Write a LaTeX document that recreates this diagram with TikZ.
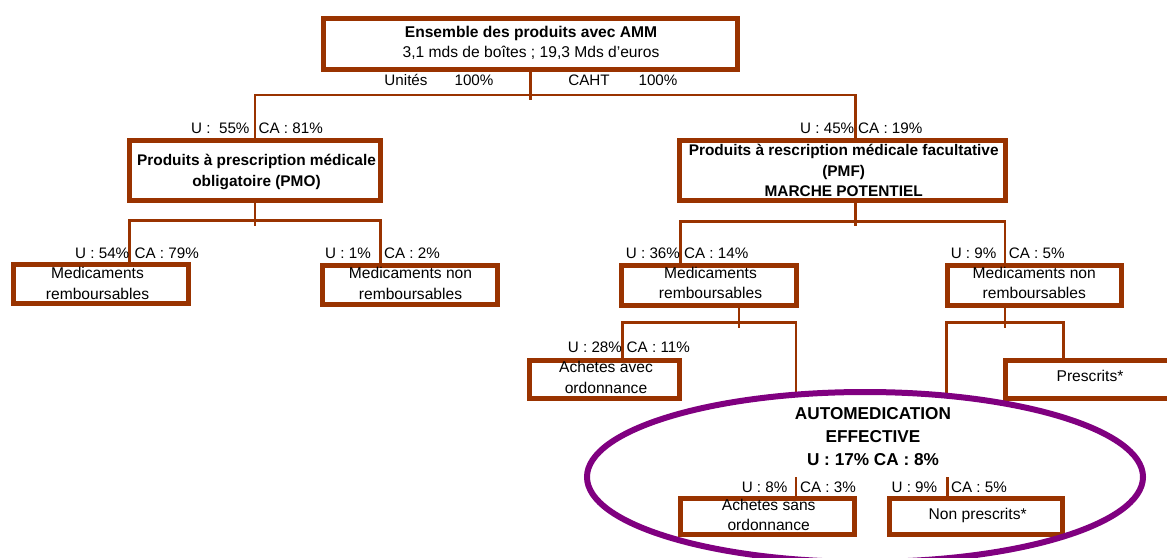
\documentclass[tikz,border=0pt]{standalone}
\usepackage{fontspec}
\setmainfont{Liberation Sans}
\usetikzlibrary{shapes.geometric}
\definecolor{brn}{RGB}{153,51,0}
\definecolor{prp}{RGB}{128,0,128}
\begin{document}
\begin{tikzpicture}[x=1pt,y=-1pt,
  box/.style={draw=brn, line width=5pt, inner sep=0pt, fill=white},
  conn/.style={draw=brn, line width=2.8pt},
  txt/.style={inner sep=0pt, align=center, font=\fontsize{15.6}{20.5}\selectfont},
  btxt/.style={inner sep=0pt, align=center, font=\fontsize{15.4}{20.5}\selectfont\bfseries},
  etxt/.style={inner sep=0pt, align=center, font=\fontsize{17.2}{23.3}\selectfont\bfseries},
  lbl/.style={inner sep=0pt, font=\fontsize{15.2}{18}\selectfont},
  ell/.style={draw=prp, line width=6pt, ellipse, inner sep=0pt, minimum width=556pt, minimum height=170pt}]
\useasboundingbox[fill=white] (0,0) rectangle (1167,557);

% boxes
\node[box, minimum width=414.5pt, minimum height=51pt] (top) at (530.25,44) {};
\node[box, minimum width=250.7pt, minimum height=60.3pt] (pmo) at (255.05,170.35) {};
\node[box, minimum width=325.7pt, minimum height=60.3pt] (pmf) at (842.35,170.35) {};
\node[box, minimum width=174.5pt, minimum height=39.5pt] (l1) at (100.75,284) {};
\node[box, minimum width=174.5pt, minimum height=39.5pt] (l2) at (410,285) {};
\node[box, minimum width=174.8pt, minimum height=39.5pt] (r1) at (709.1,285.3) {};
\node[box, minimum width=173.5pt, minimum height=39.5pt] (r2) at (1034.25,285.3) {};
\node[box, minimum width=150.2pt, minimum height=38.5pt] (aa) at (604.6,379.25) {};
\node[box, minimum width=174.7pt, minimum height=37.8pt] (pr) at (1092.65,379.4) {};
\node[box, minimum width=174pt, minimum height=36.3pt] (as) at (767,516.35) {};
\node[box, minimum width=173.5pt, minimum height=36.5pt] (np) at (975.75,516.25) {};

% connector end points on the ellipse
\coordinate (e1) at (796,394.7);
\coordinate (e2) at (946.5,395.7);
\coordinate (e3) at (796,477);
\coordinate (e4) at (947.2,477);

% connectors
\draw[conn] (top.south) -- ++(0,28);
\draw[conn] (pmo.north) -- ++(0,-42.7) -| ([xshift=13pt]pmf.north);
\draw[conn] (pmo.south) -- ++(0,22.8);
\draw[conn] ([xshift=28.5pt]l1.north) -- ++(0,-40.95) -| ([xshift=-29.2pt]l2.north);
\draw[conn] ([xshift=13pt]pmf.south) -- ++(0,22.8);
\draw[conn] ([xshift=-28.8pt]r1.north) -- ++(0,-41.95) -| ([xshift=-29.25pt]r2.north);
\draw[conn] ([xshift=29.9pt]r1.south) -- ++(0,20.25);
\draw[conn] ([xshift=17.9pt]aa.north) -- ++(0,-35) -| (e1);
\draw[conn] ([xshift=-29.25pt]r2.south) -- ++(0,20.25);
\draw[conn] ([xshift=-29.35pt]pr.north) -- ++(0,-35.5) -| (e2);
\draw[conn] (e3) -- ([xshift=29pt]as.north);
\draw[conn] (e4) -- ([xshift=-28.55pt]np.north);

% ellipse
\node[ell] (auto) at (865,477) {};

% box texts
\node[txt] (top-t) at (531,42.75) {\textbf{Ensemble des produits avec AMM}\\3,1 mds de boîtes ; 19,3 Mds d'euros};
\node[btxt] (pmo-t) at (256.5,172.2) {Produits à prescription médicale\\obligatoire (PMO)};
\node[btxt] (pmf-t) at (843.7,170.8) {Produits à rescription médicale facultative\\(PMF)\\MARCHE POTENTIEL};
\node[txt] (l1-t) at (97.5,283.3) {Medicaments\\remboursables};
\node[txt] (l2-t) at (410.5,283.3) {Medicaments non\\remboursables};
\node[txt] (r1-t) at (710.5,283) {Medicaments\\remboursables};
\node[txt] (r2-t) at (1034.3,283) {Medicaments non\\remboursables};
\node[txt] (aa-t) at (606,377.5) {Achetes avec\\ordonnance};
\node[txt] (pr-t) at (1090,376) {Prescrits*};
\node[txt] (as-t) at (768.7,515) {Achetes sans\\ordonnance};
\node[txt] (np-t) at (977.7,515) {Non prescrits*};
\node[etxt] (auto-t) at (873,436.7) {AUTOMEDICATION\\EFFECTIVE\\U : 17\% CA : 8\%};

% top labels
\node[lbl] (un) at (406,80) {Unités};
\node[lbl] (un-p) at (474,80) {100\%};
\node[lbl] (ca) at (589,80) {CAHT};
\node[lbl] (ca-p) at (658,80) {100\%};

% percentage labels
\node[lbl, anchor=west] (u1) at (191,128) {U :\ \ 55\%};
\node[lbl, anchor=east] (c1) at (323,128) {CA : 81\%};
\node[lbl, anchor=west] (u2) at (800,128) {U : 45\%};
\node[lbl, anchor=east] (c2) at (922.6,128) {CA : 19\%};
\node[lbl, anchor=west] (u3) at (75,253) {U : 54\%};
\node[lbl, anchor=east] (c3) at (199,253) {CA : 79\%};
\node[lbl, anchor=west] (u4) at (325,253) {U : 1\%};
\node[lbl, anchor=east] (c4) at (440,253) {CA : 2\%};
\node[lbl, anchor=west] (u5) at (625.7,253) {U : 36\%};
\node[lbl, anchor=east] (c5) at (748.5,253) {CA : 14\%};
\node[lbl, anchor=west] (u6) at (950.6,253) {U : 9\%};
\node[lbl, anchor=east] (c6) at (1064.8,253) {CA : 5\%};
\node[lbl, anchor=west] (u7) at (567.7,347) {U : 28\%};
\node[lbl, anchor=east] (c7) at (690,347) {CA : 11\%};
\node[lbl, anchor=west] (u8) at (741.6,487) {U : 8\%};
\node[lbl, anchor=east] (c8) at (856,487) {CA : 3\%};
\node[lbl, anchor=west] (u9) at (891.4,487) {U : 9\%};
\node[lbl, anchor=east] (c9) at (1007,487) {CA : 5\%};
\end{tikzpicture}
\end{document}
